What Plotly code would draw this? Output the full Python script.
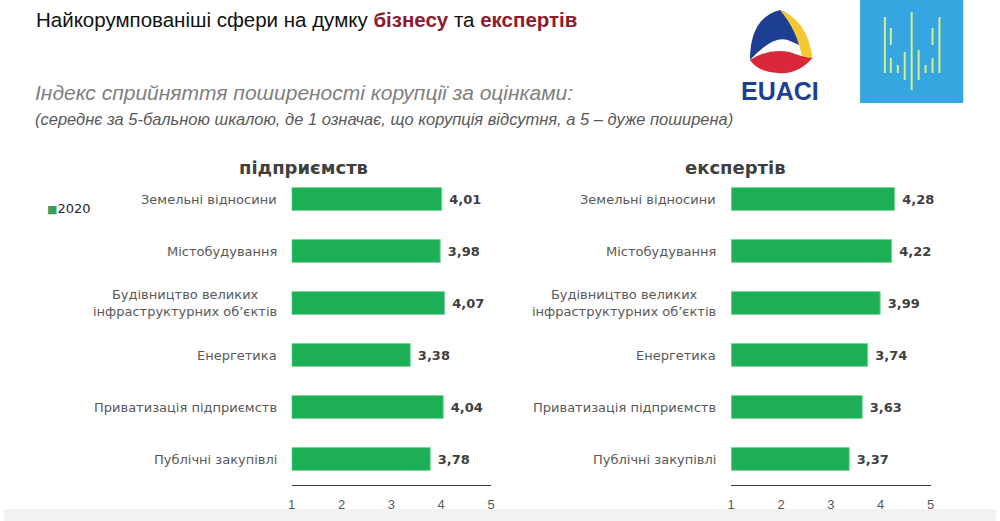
import plotly.graph_objects as go

categories = [
    "Земельні відносини",
    "Містобудування",
    "Будівництво великих<br>інфраструктурних об’єктів",
    "Енергетика",
    "Приватизація підприємств",
    "Публічні закупівлі",
]
business_2020 = [4.01, 3.98, 4.07, 3.38, 4.04, 3.78]
experts_2020 = [4.28, 4.22, 3.99, 3.74, 3.63, 3.37]
tick_values = [1, 2, 3, 4, 5]
panel_titles = ["підприємств", "експертів"]
series_name = "2020"

BAR = "#1daf55"
LABEL_GREY = "#595959"
VAL_DARK = "#3f3f3f"
RED = "#8e1b2b"

W, H = 1000, 521
def px(x):
    return x / W
def py(y):
    return 1 - y / H

fig = go.Figure()

def fmt(v):
    return "\u00a0" + f"{v:.2f}".replace(".", ",")

for i, vals in enumerate([business_2020, experts_2020]):
    sfx = "" if i == 0 else "2"
    fig.add_trace(go.Bar(
        y=categories, x=[v - 1 for v in vals], base=1,
        orientation="h",
        marker=dict(color=BAR, line=dict(color="#7fd39c", width=1)),
        width=0.44,
        text=[fmt(v) for v in vals],
        textposition="outside",
        textfont=dict(family="DejaVu Sans", size=13, color=VAL_DARK, weight="bold"),
        cliponaxis=False,
        name=series_name,
        showlegend=False,
        xaxis="x" + sfx, yaxis="y" + sfx,
        hoverinfo="skip",
    ))

ydom = [py(485), py(173)]
axis_common = dict(
    range=[1, 5], tickvals=tick_values, ticktext=[str(t) for t in tick_values],
    showgrid=False, zeroline=False, showline=True, linecolor="#3a3a3a", linewidth=1,
    ticks="outside", ticklen=7, tickcolor="rgba(0,0,0,0)",
    tickfont=dict(family="Liberation Sans", size=13, color=LABEL_GREY),
    fixedrange=True,
)
yaxis_common = dict(
    categoryorder="array", categoryarray=categories,
    autorange="reversed", showticklabels=False, showgrid=False,
    zeroline=False, showline=False, ticks="", domain=ydom, fixedrange=True,
)
fig.update_layout(
    width=W, height=H,
    margin=dict(l=0, r=0, t=0, b=0),
    paper_bgcolor="white", plot_bgcolor="white",
    xaxis=dict(domain=[px(290), px(491)], anchor="y", **axis_common),
    xaxis2=dict(domain=[px(733), px(934)], anchor="y2", **axis_common),
    yaxis=dict(anchor="x", **yaxis_common),
    yaxis2=dict(anchor="x2", **yaxis_common),
    showlegend=False,
)

annotations = []
# category labels (centered multiline, right anchored)
for yref, xpos in [("y", 277), ("y2", 720)]:
    for c in categories:
        annotations.append(dict(
            x=px(xpos), xref="paper", y=c, yref=yref,
            text=c, showarrow=False, xanchor="right", align="center",
            font=dict(family="DejaVu Sans", size=13, color=LABEL_GREY),
        ))
# panel titles
for t, xc in zip(panel_titles, [302, 737]):
    annotations.append(dict(
        x=px(xc), y=py(167), xref="paper", yref="paper",
        text=f"<b>{t}</b>", showarrow=False, xanchor="center", yanchor="middle",
        font=dict(family="DejaVu Sans", size=18, color="#404040"),
    ))
# legend
annotations.append(dict(
    x=px(41), y=py(208), xref="paper", yref="paper",
    text=f"<span style='color:#3a9f58;font-size:11px'>■</span>{series_name}",
    showarrow=False, xanchor="left", yanchor="middle",
    font=dict(family="DejaVu Sans", size=13, color="#262626"),
))
# main title
annotations.append(dict(
    x=px(30), y=py(20), xref="paper", yref="paper",
    text=("Найкорумпованіші сфери на думку "
          f"<span style='color:{RED}'><b>бізнесу</b></span> та "
          f"<span style='color:{RED}'><b>експертів</b></span>"),
    showarrow=False, xanchor="left", yanchor="middle",
    font=dict(family="Liberation Sans", size=20.5, color="#111111"),
))
annotations.append(dict(
    x=px(29), y=py(93), xref="paper", yref="paper",
    text="<i>Індекс сприйняття поширеності корупції за оцінками:</i>",
    showarrow=False, xanchor="left", yanchor="middle",
    font=dict(family="Liberation Sans", size=21, color="#7f7f7f"),
))
annotations.append(dict(
    x=px(29), y=py(119), xref="paper", yref="paper",
    text="<i>(середнє за 5-бальною шкалою, де 1 означає, що корупція відсутня, а 5 – дуже поширена)</i>",
    showarrow=False, xanchor="left", yanchor="middle",
    font=dict(family="Liberation Sans", size=16.5, color="#595959"),
))
# EUACI logo text
annotations.append(dict(
    x=px(782), y=py(91), xref="paper", yref="paper",
    text="<b>EUACI</b>", showarrow=False, xanchor="center", yanchor="middle",
    font=dict(family="Liberation Sans", size=25, color="#1c3f94"),
))
fig.update_layout(annotations=annotations)

# decorative logos
shapes = []
shapes.append(dict(type="rect", xref="paper", yref="paper",
                   x0=px(863), x1=px(967), y0=py(103), y1=1.0,
                   fillcolor="#36a6e0", line=dict(width=0), layer="below"))
for xl, ya, yb in [(888, 17, 73), (894, 28, 45), (894, 58, 73), (901, 65, 73),
                   (908, 52, 80), (915, 12, 90), (922, 50, 80), (929, 65, 73),
                   (936, 28, 45), (936, 58, 73), (943, 17, 73)]:
    shapes.append(dict(type="line", xref="paper", yref="paper",
                       x0=px(xl), x1=px(xl), y0=py(ya), y1=py(yb),
                       line=dict(color="#d4ef8c", width=2)))
# EUACI emblem (simplified)
def P(x, y):
    return f"{px(x)},{py(y)}"
shapes.append(dict(type="path", xref="paper", yref="paper",
                   path=(f"M {P(752,60)} Q {P(752,18)} {P(782,10)} "
                         f"Q {P(800,15)} {P(813,50)} L {P(790,40)} "
                         f"Q {P(775,35)} {P(752,60)} Z"),
                   fillcolor="#1c3f94", line=dict(width=0)))
shapes.append(dict(type="path", xref="paper", yref="paper",
                   path=(f"M {P(782,10)} Q {P(810,20)} {P(815,58)} "
                         f"L {P(805,60)} Q {P(800,30)} {P(782,10)} Z"),
                   fillcolor="#f5c934", line=dict(width=0)))
shapes.append(dict(type="path", xref="paper", yref="paper",
                   path=(f"M {P(752,60)} Q {P(770,48)} {P(792,52)} "
                         f"Q {P(808,58)} {P(815,58)} Q {P(800,75)} "
                         f"{P(780,73)} Q {P(760,72)} {P(752,60)} Z"),
                   fillcolor="#d8283a", line=dict(width=0)))
# bottom shadow
shapes.append(dict(type="rect", xref="paper", yref="paper",
                   x0=0, x1=1, y0=0, y1=py(509),
                   fillcolor="#f2f2f2", line=dict(width=0), layer="below"))
fig.update_layout(shapes=shapes)

fig.write_html("out.html",
               config={"displayModeBar": False, "staticPlot": True},
               post_script="document.body.style.margin='0';document.body.style.padding='0';")
